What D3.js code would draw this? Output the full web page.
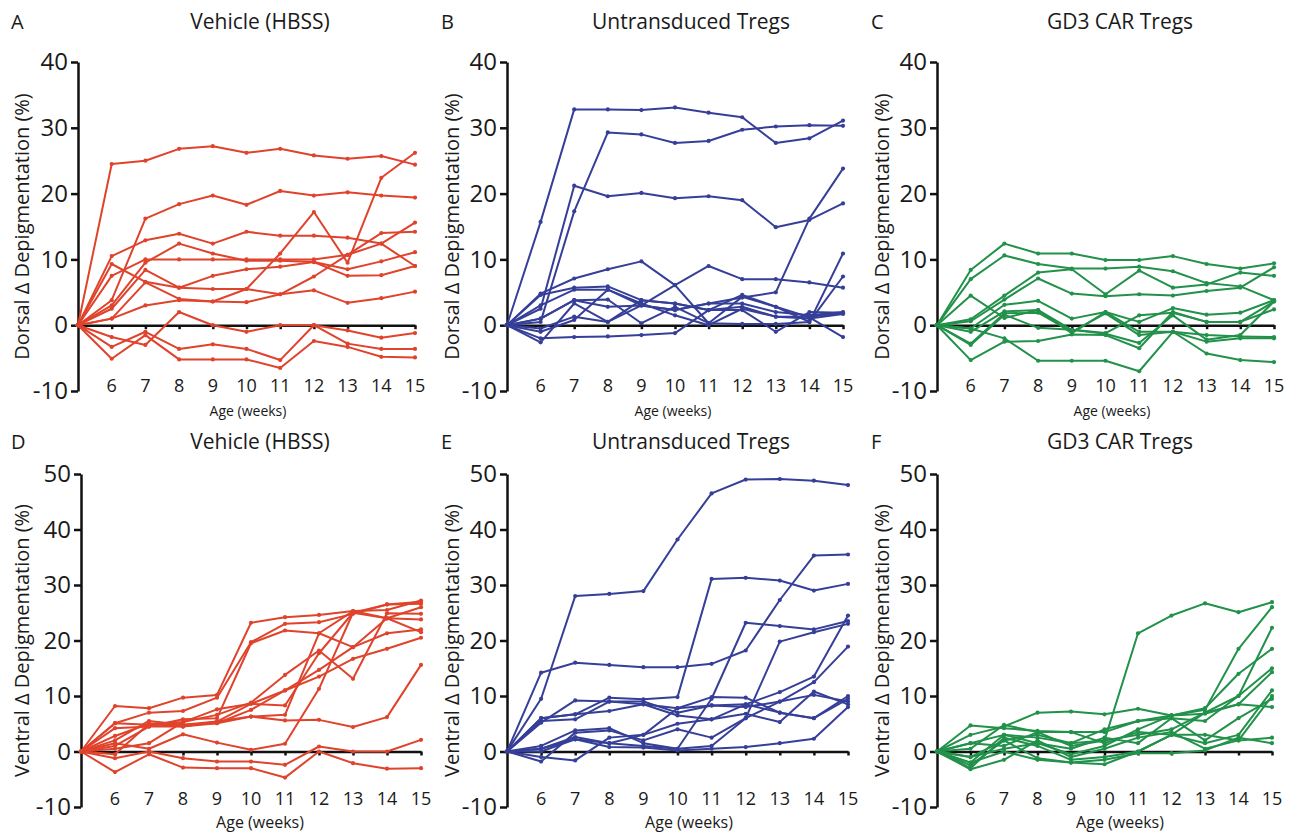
<!DOCTYPE html>
<html>
<head>
<meta charset="utf-8">
<script src="https://cdn.jsdelivr.net/npm/d3@7"></script>
<style>
  body { margin: 0; background: #fff; }
  text { font-family: "Open Sans", "Noto Sans", sans-serif; fill: #1a1a1a; }
</style>
</head>
<body>
<svg id="chart" width="1295" height="836"></svg>
<script>
// weeks of age (week 5 = baseline)
const weeks = [5, 6, 7, 8, 9, 10, 11, 12, 13, 14, 15];
const weekTicks = [6, 7, 8, 9, 10, 11, 12, 13, 14, 15];
const dorsalTicks = [-10, 0, 10, 20, 30, 40];
const ventralTicks = [-10, 0, 10, 20, 30, 40, 50];

// A - dorsal, vehicle
const dorsalVehicle = [
  [0, 24.5, 25, 26.8, 27.2, 26.2, 26.8, 25.8, 25.3, 25.7, 24.4],
  [0, 3.8, 16.2, 18.4, 19.7, 18.3, 20.4, 19.7, 20.2, 19.7, 19.4],
  [0, 10.5, 12.9, 13.9, 12.4, 14.2, 13.6, 13.6, 13.3, 12.4, 9.0],
  [0, 1.0, 6.5, 4.0, 3.6, 5.5, 10.9, 17.2, 9.5, 22.4, 26.2],
  [0, 7.5, 10, 10, 10, 10, 10, 10, 10.7, 14, 14.2],
  [0, 9.3, 6.6, 5.7, 5.5, 5.5, 4.7, 5.3, 3.4, 4.1, 5.1],
  [0, 2.5, 8.4, 5.7, 7.5, 8.5, 8.9, 9.6, 7.5, 7.6, 9.0],
  [0, 3.0, 9.5, 12.4, 10.9, 9.8, 9.8, 9.6, 8.5, 9.7, 11.1],
  [0, 1.0, 3.0, 3.8, 3.6, 3.5, 4.7, 7.4, 10.7, 12.4, 15.6],
  [0, -1.8, -3.0, 2.0, 0, -1.0, 0, 0, -0.8, -1.9, -1.2],
  [0, -3.3, -1.0, -3.6, -2.9, -3.6, -5.3, 0, -2.8, -3.6, -3.6],
  [0, -5.1, -1.5, -5.2, -5.2, -5.2, -6.5, -2.4, -3.3, -4.8, -4.9]
];

// B - dorsal, untransduced Tregs
const dorsalUntransduced = [
  [0, 15.7, 32.8, 32.8, 32.7, 33.1, 32.3, 31.6, 27.7, 28.4, 31.1],
  [0, 0.5, 17.3, 29.3, 29.0, 27.7, 28.0, 29.7, 30.2, 30.4, 30.3],
  [0, 2.5, 21.2, 19.6, 20.1, 19.3, 19.6, 19.0, 14.9, 16.0, 18.5],
  [0, 1.0, 3.8, 2.8, 3.0, 2.3, 3.3, 4.2, 5.0, 16.2, 23.8],
  [0, 4.8, 7.1, 8.5, 9.7, 6.1, 0.3, 0.2, 0.2, 0.5, 7.4],
  [0, -0.5, 1.3, 0.5, 3.0, 6.1, 9.0, 7.0, 7.0, 6.5, 5.7],
  [0, 4.6, 5.7, 5.9, 3.8, 3.3, 2.3, 4.6, 2.8, 0.5, 10.9],
  [0, 3.0, 5.4, 5.4, 3.0, 2.3, 3.3, 3.3, 2.0, 1.5, 2.0],
  [0, -2.6, 3.3, 0.5, 3.8, 3.3, 2.3, 2.3, -1.0, 2.0, 1.9],
  [0, -2.0, -1.8, -1.7, -1.5, -1.2, 2.3, 2.8, 1.3, 1.0, 1.7],
  [0, 1.0, 3.8, 3.9, 0.3, 2.8, 0.3, 4.3, 2.8, 1.2, -1.8],
  [0, -1.0, 0.8, 5.4, 3.3, 1.5, 0, 2.5, 1.3, 1.3, 1.8]
];

// C - dorsal, GD3 CAR Tregs
const dorsalCar = [
  [0, 8.4, 12.4, 10.9, 10.9, 9.9, 9.9, 10.5, 9.3, 8.6, 9.4],
  [0, 7.0, 10.6, 9.3, 8.6, 8.6, 8.9, 8.2, 6.4, 5.9, 3.8],
  [0, 0.6, 3.9, 7.1, 4.8, 4.4, 4.7, 4.5, 5.2, 5.7, 8.8],
  [0, 0.9, 4.5, 8.0, 8.5, 4.7, 8.3, 5.7, 6.2, 8.0, 7.5],
  [0, 4.5, 1.1, 2.3, -1.2, 2.0, -1.0, -1.0, -1.5, -1.7, -1.8],
  [0, -0.5, 3.1, 3.7, 1.0, 2.0, 0.5, 2.6, 1.6, 1.9, 3.8],
  [0, -1.0, 2.1, 2.3, -0.7, -1.2, 1.5, 1.9, 0.5, 0.5, 2.4],
  [0, -3.0, 1.6, -0.4, -0.7, -1.3, -2.7, 1.5, -2.2, -1.5, 3.6],
  [0, -5.3, -2.5, -2.4, -1.4, -1.5, -3.5, 2.0, 0.5, 0.5, 3.6],
  [0, -0.5, -2.0, -5.4, -5.4, -5.4, -7.0, -1.0, -4.3, -5.3, -5.6],
  [0, -2.8, 1.8, 1.9, -1.0, 1.8, -1.5, -1.0, -2.5, -2.0, -2.0]
];

// D - ventral, vehicle
const ventralVehicle = [
  [0, 8.2, 7.8, 9.7, 10.2, 23.2, 24.2, 24.6, 25.3, 25.5, 27.2],
  [0, 5.1, 7.0, 7.3, 9.7, 19.7, 23.0, 23.3, 24.8, 26.5, 26.6],
  [0, 4.2, 4.5, 5.8, 6.0, 19.5, 21.8, 21.3, 18.8, 24.0, 26.0],
  [0, 2.8, 5.0, 5.3, 6.6, 8.8, 13.8, 18.2, 13.1, 24.9, 24.8],
  [0, 2.0, 5.5, 4.8, 5.4, 8.6, 11.0, 14.7, 18.8, 21.3, 22.0],
  [0, 1.0, 4.5, 4.5, 5.1, 7.5, 11.0, 13.5, 16.7, 18.5, 20.5],
  [0, 0.5, 1.5, 5.3, 7.6, 8.6, 8.3, 17.7, 25.0, 24.0, 23.8],
  [0, -0.5, 5.0, 4.5, 5.4, 6.3, 6.6, 21.3, 25.3, 24.0, 21.5],
  [0, 5.1, 4.8, 4.8, 5.1, 6.3, 5.6, 5.7, 4.4, 6.2, 15.6],
  [0, 1.5, 0.5, 3.1, 1.6, 0.3, 1.4, 11.3, 25.0, 26.5, 27.0],
  [0, -1.2, 0, -1.2, -1.8, -1.8, -2.4, 0.9, 0, 0, 2.1],
  [0, -3.7, -0.5, -2.9, -3.0, -3.0, -4.7, 0, -2.1, -3.1, -3.0]
];

// E - ventral, untransduced Tregs
const ventralUntransduced = [
  [0, 9.5, 28.0, 28.4, 28.9, 38.2, 46.5, 49.0, 49.1, 48.8, 48.0],
  [0, 14.2, 16.0, 15.6, 15.2, 15.2, 15.8, 18.2, 27.3, 35.3, 35.5],
  [0, 6.0, 6.7, 9.7, 9.4, 9.8, 31.1, 31.3, 30.8, 29.0, 30.2],
  [0, 5.5, 5.8, 9.0, 9.0, 7.0, 8.3, 8.5, 7.0, 6.0, 9.5],
  [0, 1.0, 3.8, 4.2, 1.5, 0.5, 1.0, 6.0, 19.8, 21.5, 23.0],
  [0, 0.5, 2.2, 1.5, 1.0, 0.5, 9.5, 23.2, 22.6, 22.0, 23.5],
  [0, 5.2, 9.2, 9.0, 8.5, 7.8, 8.3, 8.0, 9.0, 10.2, 9.0],
  [0, 6.0, 6.7, 7.3, 8.5, 6.5, 5.8, 6.8, 5.3, 10.8, 8.5],
  [0, -1.8, 3.4, 3.8, 2.0, 4.0, 2.5, 6.0, 9.0, 12.5, 18.9],
  [0, -1.0, -1.6, 2.5, 3.0, 5.0, 5.8, 8.5, 10.7, 13.5, 24.5],
  [0, 0, 2.2, 0.8, 0.7, 0.2, 0.5, 0.8, 1.5, 2.3, 8.0],
  [0, 0.5, 2.6, 1.5, 3.0, 7.8, 9.8, 9.7, 7.0, 6.0, 10.0]
];

// F - ventral, GD3 CAR Tregs
const ventralCar = [
  [0, 1.5, 3.0, 2.5, 1.5, 2.0, 21.3, 24.5, 26.7, 25.1, 26.9],
  [0, 3.0, 4.5, 7.0, 7.2, 6.7, 7.7, 6.5, 6.8, 8.5, 8.0],
  [0, -1.0, 0.5, 1.5, -0.5, 1.0, 4.0, 6.5, 7.5, 18.5, 26.0],
  [0, 4.7, 4.2, 3.7, 3.5, 3.5, 5.5, 6.5, 7.8, 14.0, 18.5],
  [0, -2.5, 2.0, 3.0, 1.5, 4.0, 5.5, 6.0, 5.5, 10.0, 22.3],
  [0, -3.0, 2.5, 1.0, -1.5, -1.0, 0, 3.0, 7.0, 10.0, 15.0],
  [0, 0.5, 4.8, 3.5, 1.0, 2.0, 3.0, 4.0, 7.0, 8.5, 14.3],
  [0, -2.0, 0, -1.5, -2.0, -2.3, 0, 3.0, 1.5, 3.0, 11.0],
  [0, -3.2, -1.5, 2.0, -1.0, 0.5, 2.5, 3.5, 0.5, 2.0, 10.0],
  [0, 1.5, 1.0, 3.5, 3.5, 1.5, 3.5, 3.0, 3.0, 2.0, 2.5],
  [0, -1.0, 2.0, -1.2, -2.0, -1.5, -0.3, -0.3, 0.2, 2.5, 1.5],
  [0, -2.0, 3.0, 1.5, 0.5, 2.5, 1.5, 6.0, 2.0, 6.0, 9.5]
];

const red = "#e0432c";
const blue = "#363f98";
const green = "#22914a";

const panels = [
  { letter: "A", title: "Vehicle (HBSS)", series: dorsalVehicle, color: red,
    yLabel: "Dorsal \u0394 Depigmentation (%)", yTicks: dorsalTicks,
    left: 78, right: 415, top: 62, bottom: 391, titleX: 260, xLabelX: 248, row: 0, col: 0 },
  { letter: "B", title: "Untransduced Tregs", series: dorsalUntransduced, color: blue,
    yLabel: "Dorsal \u0394 Depigmentation (%)", yTicks: dorsalTicks,
    left: 507, right: 843, top: 62, bottom: 391, titleX: 691, xLabelX: 673, row: 0, col: 1 },
  { letter: "C", title: "GD3 CAR Tregs", series: dorsalCar, color: green,
    yLabel: "Dorsal \u0394 Depigmentation (%)", yTicks: dorsalTicks,
    left: 937, right: 1274, top: 62, bottom: 391, titleX: 1120, xLabelX: 1112, row: 0, col: 2 },
  { letter: "D", title: "Vehicle (HBSS)", series: ventralVehicle, color: red,
    yLabel: "Ventral \u0394 Depigmentation (%)", yTicks: ventralTicks,
    left: 81, right: 421, top: 474, bottom: 807, titleX: 260, xLabelX: 260, row: 1, col: 0 },
  { letter: "E", title: "Untransduced Tregs", series: ventralUntransduced, color: blue,
    yLabel: "Ventral \u0394 Depigmentation (%)", yTicks: ventralTicks,
    left: 507, right: 848, top: 474, bottom: 807, titleX: 691, xLabelX: 689, row: 1, col: 1 },
  { letter: "F", title: "GD3 CAR Tregs", series: ventralCar, color: green,
    yLabel: "Ventral \u0394 Depigmentation (%)", yTicks: ventralTicks,
    left: 937, right: 1272, top: 474, bottom: 807, titleX: 1120, xLabelX: 1120, row: 1, col: 2 }
];

const svg = d3.select("#chart");
svg.append("rect").attr("width", 1295).attr("height", 836).attr("fill", "#fff");

panels.forEach((p) => drawPanel(p));

function drawPanel(p) {
  const g = svg.append("g");
  const colLeft = [0, 430, 860][p.col];
  const titleY = p.row === 0 ? 29 : 449;

  const x = d3.scaleLinear().domain([5, 15]).range([p.left, p.right]);
  const y = d3
    .scaleLinear()
    .domain([d3.min(p.yTicks), d3.max(p.yTicks)])
    .range([p.bottom, p.top]);

  // letter + title
  g.append("text")
    .attr("x", colLeft + 11)
    .attr("y", titleY)
    .style("font-size", "20px")
    .text(p.letter);

  g.append("text")
    .attr("x", p.titleX)
    .attr("y", titleY)
    .attr("text-anchor", "middle")
    .style("font-size", "21px")
    .text(p.title);

  // Y-Axis
  const yAxis = g
    .append("g")
    .attr("transform", `translate(${p.left},0)`)
    .call(
      d3
        .axisLeft(y)
        .tickValues(p.yTicks)
        .tickSize(7)
        .tickSizeOuter(0)
        .tickPadding(3)
        .tickFormat((d) => String(d))
    );
  yAxis.select(".domain").attr("stroke", "#111").attr("stroke-width", 2.5);
  yAxis.selectAll(".tick line").attr("stroke", "#111").attr("stroke-width", 2.5);
  yAxis
    .selectAll(".tick text")
    .style("font-size", "24px")
    .style("font-family", '"Open Sans", sans-serif')
    .attr("fill", "#1a1a1a");

  // zero line with week ticks
  const zeroAxis = g
    .append("g")
    .attr("transform", `translate(0,${y(0)})`)
    .call(d3.axisBottom(x).tickValues(weekTicks).tickSize(4).tickSizeOuter(0).tickFormat(""));
  zeroAxis.select(".domain").attr("stroke", "#111").attr("stroke-width", 2.5);
  zeroAxis.selectAll(".tick line").attr("stroke", "#111").attr("stroke-width", 2.5);

  // week labels along the bottom
  g.selectAll(".week")
    .data(weekTicks)
    .enter()
    .append("text")
    .attr("x", (d) => x(d))
    .attr("y", p.row === 0 ? p.bottom + 1 : p.bottom - 2)
    .attr("text-anchor", "middle")
    .style("font-size", "18px")
    .text((d) => d);

  // X-axis label
  g.append("text")
    .attr("x", p.xLabelX)
    .attr("y", p.row === 0 ? 416 : 828)
    .attr("text-anchor", "middle")
    .style("font-size", p.row === 0 ? "14px" : "16px")
    .text("Age (weeks)");

  // Y-axis label
  g.append("text")
    .attr("transform", "rotate(-90)")
    .attr("x", -(p.top + p.bottom) / 2)
    .attr("y", colLeft + 29)
    .attr("text-anchor", "middle")
    .style("font-size", "20px")
    .text(p.yLabel);

  // lines
  const line = d3
    .line()
    .x((d, i) => x(weeks[i]))
    .y((d) => y(d));

  g.append("g")
    .selectAll("path")
    .data(p.series)
    .enter()
    .append("path")
    .attr("d", line)
    .attr("fill", "none")
    .attr("stroke", p.color)
    .attr("stroke-width", 2)
    .attr("stroke-linejoin", "round");

  g.append("g")
    .selectAll("g")
    .data(p.series)
    .enter()
    .append("g")
    .selectAll("circle")
    .data((d) => d)
    .enter()
    .append("circle")
    .attr("cx", (d, i) => x(weeks[i]))
    .attr("cy", (d) => y(d))
    .attr("r", 2.1)
    .attr("fill", p.color);
}
</script>
</body>
</html>
